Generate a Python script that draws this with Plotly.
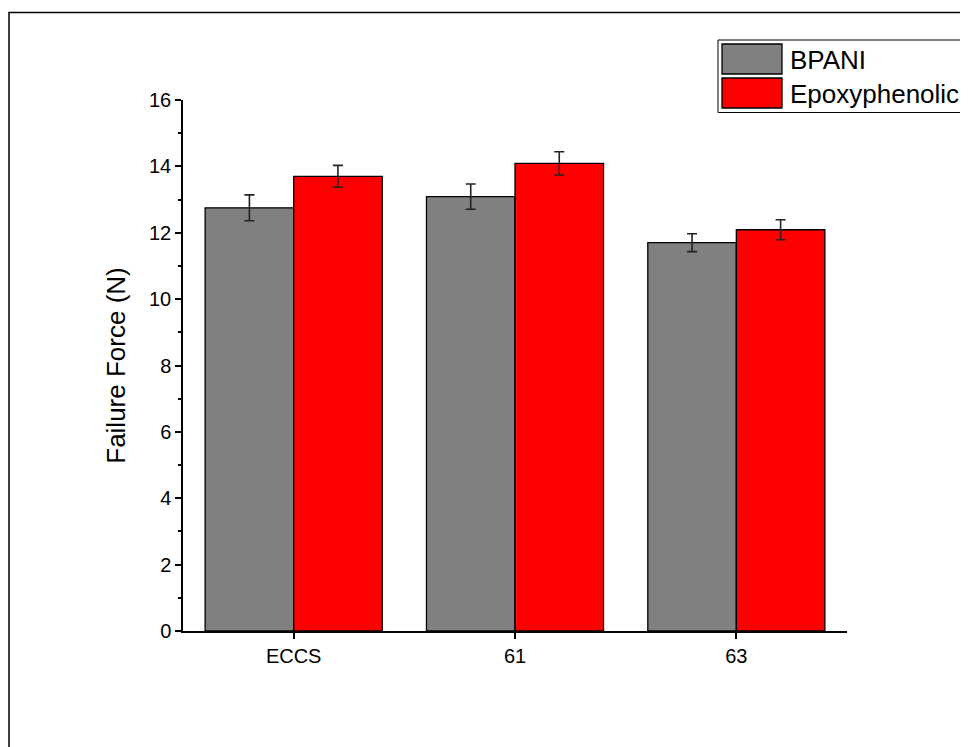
import plotly.graph_objects as go

categories = ["ECCS", "61", "63"]
bpani = [12.75, 13.09, 11.70]
bpani_err = [0.39, 0.38, 0.27]
epoxy = [13.70, 14.09, 12.09]
epoxy_err = [0.33, 0.35, 0.30]
series_names = ["BPANI", "Epoxyphenolic"]
y_ticks = [0, 2, 4, 6, 8, 10, 12, 14, 16]

FONT = "Liberation Sans, Arial, sans-serif"
OFF = 8  # page body margin
W, H = 968 - OFF, 747 - OFF
X0, X1, Y0, Y1 = 183, 847, 100, 631  # plot area in screenshot pixels
L, T = X0 - OFF, Y0 - OFF
R = W - (X1 - OFF)
B = H - (Y1 - OFF)
pw, ph = X1 - X0, Y1 - Y0

def px(x):
    return (x - X0) / pw

def py(y):
    return (Y1 - y) / ph

fig = go.Figure()
fig.add_trace(go.Bar(
    x=categories, y=bpani, name=series_names[0],
    marker=dict(color="#808080", line=dict(color="black", width=1.3)),
    error_y=dict(type="data", array=bpani_err, color="#222", thickness=1.6, width=5),
))
fig.add_trace(go.Bar(
    x=categories, y=epoxy, name=series_names[1],
    marker=dict(color="#FF0000", line=dict(color="black", width=1.3)),
    error_y=dict(type="data", array=epoxy_err, color="#222", thickness=1.6, width=5),
))

shapes = [
    dict(type="rect", xref="paper", yref="paper", x0=px(9), x1=px(1100), y0=py(12.5), y1=py(900),
         line=dict(color="black", width=1.5), fillcolor="rgba(0,0,0,0)", layer="below"),
    dict(type="rect", xref="paper", yref="paper", x0=px(718), x1=px(1100), y0=py(40), y1=py(112.5),
         line=dict(color="black", width=1), fillcolor="white"),
    dict(type="rect", xref="paper", yref="paper", x0=px(722), x1=px(782), y0=py(44), y1=py(74),
         line=dict(color="black", width=1.3), fillcolor="#808080"),
    dict(type="rect", xref="paper", yref="paper", x0=px(722), x1=px(782), y0=py(78), y1=py(108),
         line=dict(color="black", width=1.3), fillcolor="#FF0000"),
]
annotations = [
    dict(text=series_names[0], xref="paper", yref="paper", x=px(788), y=py(60), xanchor="left",
         yanchor="middle", showarrow=False, font=dict(family=FONT, size=26, color="black")),
    dict(text=series_names[1], xref="paper", yref="paper", x=px(788), y=py(94), xanchor="left",
         yanchor="middle", showarrow=False, font=dict(family=FONT, size=26, color="black")),
]

fig.update_layout(
    width=W, height=H,
    margin=dict(l=L, r=R, t=T, b=B),
    paper_bgcolor="white", plot_bgcolor="white",
    barmode="group", bargap=0.2, bargroupgap=0,
    showlegend=False,
    shapes=shapes, annotations=annotations,
    font=dict(family=FONT, color="black"),
)
fig.update_xaxes(
    range=[-0.5, 2.5], showline=True, linecolor="black", linewidth=1.5,
    ticks="outside", ticklen=6, tickwidth=1.5, tickcolor="black",
    tickfont=dict(family=FONT, size=20), showgrid=False, zeroline=False,
    minor=dict(ticks="outside", ticklen=6, tickwidth=1.5, tickcolor="black", dtick=0.5, tick0=0.5),
)
fig.update_yaxes(
    range=[0, 16], tickvals=y_ticks, showline=True, linecolor="black", linewidth=1.5,
    ticks="outside", ticklen=6, tickwidth=1.5, tickcolor="black",
    tickfont=dict(family=FONT, size=20), showgrid=False, zeroline=False,
    minor=dict(ticks="outside", ticklen=3, tickwidth=1.5, tickcolor="black", dtick=1),
    title=dict(text="Failure Force (N)", font=dict(family=FONT, size=26), standoff=16),
)
fig.write_html("out.html")
